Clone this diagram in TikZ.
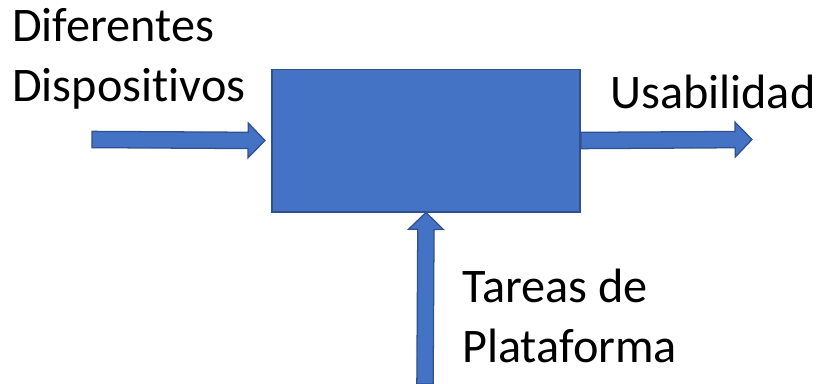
\documentclass[tikz,border=0pt]{standalone}
\usepackage{fontspec}
\setmainfont[Ligatures=NoCommon]{Carlito}
\usetikzlibrary{calc}
\definecolor{boxfill}{HTML}{4472C4}
\definecolor{boxline}{HTML}{2F528F}
\newcommand{\blockarr}[2]{%
  \path ($(#2)!12pt!(#1)$) coordinate (hb);
  \draw[arr] ($(#1)!5.8pt!90:(#2)$) -- ($(hb)!5.8pt!-90:(#1)$)
    -- ($(hb)!12.4pt!-90:(#1)$) -- (#2) -- ($(hb)!12.4pt!90:(#1)$)
    -- ($(hb)!5.8pt!90:(#1)$) -- ($(#1)!5.8pt!-90:(#2)$) -- cycle;}
\begin{document}
\begin{tikzpicture}[x=0.025cm, y=-0.025cm,
    lbl/.style={inner sep=0pt, align=left, font=\fontsize{34.3}{42.5}\selectfont},
    mainbox/.style={draw=boxline, fill=boxfill, line width=1.4pt, minimum width=7.7cm, minimum height=3.55cm, inner sep=0pt},
    arr/.style={draw=boxline, fill=boxfill, line width=0.9pt, line join=miter}]
    \useasboundingbox (0,0) rectangle (817,383);
    \node [mainbox] (box) at (426,140.5) {};
    \coordinate (inL) at (92,139.5);
    \coordinate (outR) at (752,139.5);
    \coordinate (inB) at (425,384);
    \blockarr{inL}{[xshift=-0.15cm]box.west}
    \blockarr{box.east}{outR}
    \blockarr{inB}{box.south}
    \node [lbl, anchor=base west] (dev) at (12,101) {Diferentes\\Dispositivos};
    \node [lbl, anchor=base west] (usa) at (610,108) {Usabilidad};
    \node [lbl, anchor=base west] (tar) at (462,362) {Tareas de\\Plataforma};
\end{tikzpicture}
\end{document}
